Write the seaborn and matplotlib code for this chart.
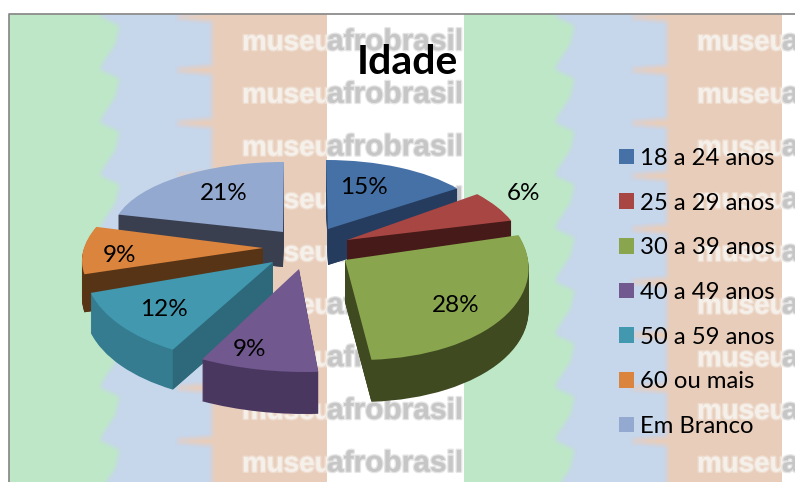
import numpy as np
import seaborn as sns
import matplotlib.pyplot as plt
from matplotlib.patches import Wedge, Polygon
from matplotlib.transforms import Affine2D
import matplotlib.patheffects as pe

# Chart data
categories = ["18 a 24 anos", "25 a 29 anos", "30 a 39 anos", "40 a 49 anos",
              "50 a 59 anos", "60 ou mais", "Em Branco"]
percent = [15, 6, 28, 9, 12, 9, 21]
title = "Idade"

# Colours
top_colors = ["#4571A6", "#A84643", "#89A54E", "#71588F", "#4198AF", "#DB843D", "#93A9CF"]
rim_colors = ["#2A4365", "#4A1B19", "#3F4A21", "#4A3760", "#357C90", "#5A3515", "#3A3F50"]
wall_colors = ["#263C5F", "#451A18", "#3F4A21", "#3E2E52", "#2D697A", "#583416", "#3A3F50"]

# Layout of each slice in pixels: apex x, apex y, x radius, y radius, shear, depth
apex_x = [328, 347, 345, 299, 273, 263, 283]
apex_y = [229, 240, 260, 269, 262, 248, 232]
radius_x = [161, 174, 183, 212, 188, 179, 170]
radius_y = [69, 78, 100, 103, 100, 85, 70]
shear = [-2, -18, -15, -6, 11, 27, 1]
depth = [36, 36, 42, 42, 40, 38, 35]
draw_order = [6, 0, 1, 5, 4, 3, 2]
label_x = [364, 523, 456, 249, 164, 119, 224]
label_y = [187, 193, 305, 349, 309, 255, 193]

sns.set_theme(style="white")
plt.rcParams['font.family'] = ['Lato', 'DejaVu Sans']
palette = sns.color_palette(top_colors)

fig = plt.figure(figsize=(7.95, 4.82), dpi=100)
ax = fig.add_axes([0, 0, 1, 1])

wedges, _ = ax.pie(percent, colors=palette, startangle=90, counterclock=False, radius=1)

# Background tile, repeated every 455 pixels, soft on the wavy edges
green = np.array([190, 232, 198]) / 255
blue = np.array([198, 214, 236]) / 255
peach = np.array([233, 205, 187]) / 255
tile = np.ones((482, 455, 3))
for y in range(482):
    green_edge = np.interp((y - 25) % 53, [0, 18, 36, 44, 53], [111, 107, 95, 91, 111])
    peach_edge = np.interp((y - 15) % 53, [0, 3, 6, 50, 53], [169, 169, 203, 203, 169])
    tile[y, :int(green_edge)] = green
    tile[y, int(green_edge):203] = blue
    tile[y, int(peach_edge):318] = peach
soft = tile.copy()
kernel = np.ones(7) / 7
for c in range(3):
    for y in range(482):
        soft[y, :, c] = np.convolve(np.pad(tile[y, :, c], 3, mode="edge"), kernel, "valid")
    smooth = soft[:, :, c].copy()
    for x in range(455):
        soft[:, x, c] = np.convolve(np.pad(smooth[:, x], 3, mode="edge"), kernel, "valid")
soft[:, 300:] = tile[:, 300:]
background = np.ones((482, 795, 3))
background[:, 9:464] = soft
background[:, 464:795] = soft[:, :331]
background[:14] = 1
ax.imshow(background, extent=(0, 795, 482, 0), aspect="auto", zorder=1)

ax.set_aspect('auto')
ax.set_xlim(0, 795)
ax.set_ylim(482, 0)

# Watermark rows
mark_font = "Liberation Sans"
for row in np.arange(50, 482, 52.7):
    for shift, tail in [(0, "afrobrasil"), (455, "a")]:
        ax.text(242 + shift, row, "museu", fontsize=20, fontweight="bold", color="#F6F0EA",
                family=mark_font, va="baseline", ha="left", zorder=2,
                path_effects=[pe.withStroke(linewidth=2, foreground="#F6F0EA", alpha=0.45)])
        ax.text(327 + shift, row, tail, fontsize=21.5, fontweight="bold", color="#C6C6C6",
                family=mark_font, va="baseline", ha="left", zorder=2,
                path_effects=[pe.withStroke(linewidth=2, foreground="#C6C6C6", alpha=0.45)])

# Chart frame
ax.plot([8.5, 8.5, 795], [482, 13.5, 13.5], color="#8C8C8C", lw=1.3, zorder=3)

# Slices: the side is a stack of copies under the top face
for rank, i in enumerate(draw_order):
    w = wedges[i]
    base_z = 10 + rank * 3
    matrix = [[radius_x[i], shear[i], apex_x[i]], [0, -radius_y[i], apex_y[i]], [0, 0, 1]]
    top = Affine2D(np.array(matrix, dtype=float))
    for d in range(depth[i], 0, -1):
        layer = top + Affine2D().translate(0, d) + ax.transData
        ax.add_patch(Wedge((0, 0), 1, w.theta1, w.theta2, color=rim_colors[i], lw=0,
                           transform=layer, zorder=base_z))
    # cut faces that look towards the viewer
    mid = np.radians((w.theta1 + w.theta2) / 2)
    for theta in [w.theta1, w.theta2]:
        edge = np.radians(theta)
        ux, uy = np.cos(edge), np.sin(edge)
        cross = ux * np.sin(mid) - uy * np.cos(mid)
        if cross * ux > 0:
            corner = top.transform([[0, 0], [ux, uy]])
            ax.add_patch(Polygon([corner[0], corner[1], corner[1] + [0, depth[i]],
                                  corner[0] + [0, depth[i]]], color=wall_colors[i], lw=0,
                                 zorder=base_z + 1))
    w.set_transform(top + ax.transData)
    w.set_zorder(base_z + 2)
    w.set_linewidth(0)

for i, value in enumerate(percent):
    ax.text(label_x[i], label_y[i], f"{value}%", fontsize=17.5, color="black",
            ha="center", va="center", zorder=40)

ax.text(407, 62, title, fontsize=29.5, fontweight="bold", color="black",
        ha="center", va="center", zorder=40)

leg = ax.legend(wedges, categories, frameon=False, fontsize=17.2, loc="upper left",
                bbox_to_anchor=(619 / 795, 1 - 148 / 482), borderaxespad=0, borderpad=0,
                handlelength=0.63, handleheight=0.63, handletextpad=0.25, labelspacing=0.99,
                labelcolor="black")
leg.set_zorder(40)

fig.savefig("out.png", dpi=100)
